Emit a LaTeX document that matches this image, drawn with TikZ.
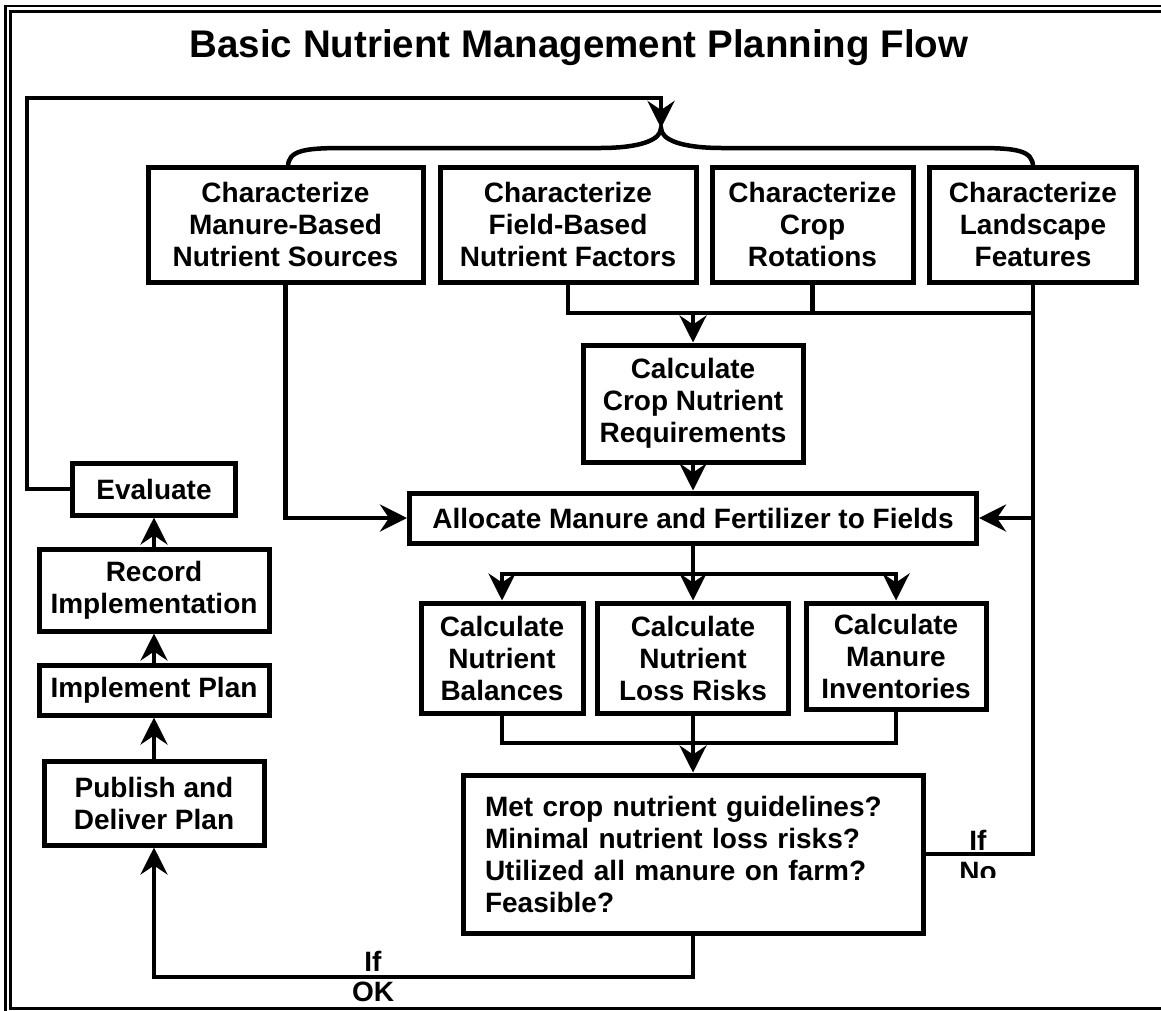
\documentclass[tikz,border=0pt]{standalone}
\usepackage{fontspec}
\setmainfont{Liberation Sans}
\usetikzlibrary{arrows.meta}
\tikzset{
  bx/.style={draw, line width=5pt, inner sep=0pt, align=center, fill=white,
    font=\fontsize{28}{32}\selectfont\bfseries},
  conn/.style={line width=4.5pt},
  arr/.style={conn, -{Stealth[length=27pt,width=27pt,inset=9pt]}},
  lbl/.style={font=\fontsize{28}{32}\selectfont\bfseries, inner sep=0pt},
  frameline/.style={line width=2.6pt},
}
\begin{document}
\begin{tikzpicture}[x=1pt,y=-1pt]
\useasboundingbox (0,0) rectangle (1161,1010);
\clip (0,0) rectangle (1161,1010);
% frame
\draw[frameline] (5.5,1020) -- (5.5,6) -- (1175,6);
\draw[frameline] (1175,11.3) -- (10.5,11.3) -- (10.5,1008.5) -- (1175,1008.5);
% title
\node[font=\fontsize{38.5}{44}\selectfont\bfseries, anchor=base, inner sep=0pt] (title) at (579,57) {Basic Nutrient Management Planning Flow};
% top boxes
\node[bx, minimum width=275pt, minimum height=115pt] (c1) at (285.5,224.5) {Characterize\\Manure-Based\\Nutrient Sources};
\node[bx, minimum width=256pt, minimum height=115pt] (c2) at (568,224.5) {Characterize\\Field-Based\\Nutrient Factors};
\node[bx, minimum width=201pt, minimum height=115pt] (c3) at (812.5,224.5) {Characterize\\Crop\\Rotations};
\node[bx, minimum width=207pt, minimum height=115pt] (c4) at (1033,224.5) {Characterize\\Landscape\\Features};
% middle
\node[bx, minimum width=220pt, minimum height=117pt] (crop) at (693,403.5) {Calculate\\Crop Nutrient\\Requirements};
\node[bx, minimum width=567pt, minimum height=50pt] (alloc) at (693,518) {Allocate Manure and Fertilizer to Fields};
\node[bx, minimum width=162pt, minimum height=110pt] (mA) at (502,658) {Calculate\\Nutrient\\Balances};
\node[bx, minimum width=191pt, minimum height=110pt] (mB) at (693,658) {Calculate\\Nutrient\\Loss Risks};
\node[bx, minimum width=180pt, minimum height=106pt] (mC) at (896,656) {Calculate\\Manure\\Inventories};
\node[bx, minimum width=460pt, minimum height=158pt, text width=416pt, align=left] (dec) at (693,854) {Met crop nutrient guidelines?\\Minimal nutrient loss risks?\\Utilized all manure on farm?\\Feasible?};
% left column
\node[bx, minimum width=163pt, minimum height=52pt] (eval) at (154,489) {Evaluate};
\node[bx, minimum width=230pt, minimum height=82pt] (rec) at (154,590) {Record\\Implementation};
\node[bx, minimum width=230pt, minimum height=50pt] (impl) at (154,690) {Implement Plan};
\node[bx, minimum width=220pt, minimum height=84pt] (pub) at (154,803) {Publish and\\Deliver Plan};
% coordinates
\coordinate (fbT) at (27,98);
\coordinate (bt) at (661,128);
\coordinate (j1) at (1033,313);
\coordinate (br) at (693,574);
\coordinate (col) at (693,743);
\coordinate (okc) at (693,977);
% feedback loop and brace
\draw[arr] (eval.west) -| (fbT) -| (bt);
\draw[conn] (288,167) .. controls (288,150) and (305,148) .. (345,148) -- (600,148)
  .. controls (640,148) and (661,140) .. (bt)
  .. controls (661,140) and (682,148) .. (722,148) -- (976,148)
  .. controls (1016,148) and (1033,150) .. (1033,167);
% connectors
\draw[arr] (c1.south) |- (alloc.west);
\draw[conn] (c2.south) |- (j1);
\draw[conn] (c3.south) -- (c3.south |- j1);
\draw[arr] (crop.north |- j1) -- (crop.north);
\draw[arr] (crop.south) -- (alloc.north);
\draw[conn] (c4.south) -- (c4.south |- dec.east) -- (dec.east);
\draw[arr] (c4.south |- alloc.east) -- (alloc.east);
\draw[arr] (alloc.south) -- (mB.north);
\draw[arr] (br) -| (mA.north);
\draw[arr] (br) -| (mC.north);
\draw[conn] (mA.south) |- (col);
\draw[conn] (mC.south) |- (col);
\draw[arr] (mB.south) -- (dec.north);
\draw[arr] (dec.south) -- (okc) -| (pub.south);
\draw[arr] (pub.north) -- (impl.south);
\draw[arr] (impl.north) -- (rec.south);
\draw[arr] (rec.north) -- (eval.south);
% labels
\node[lbl, anchor=base] (okIf) at (373,971) {If};
\node[lbl, anchor=base] (okOK) at (373,1001) {OK};
\begin{scope}
\clip (940,815) rectangle (1020,877);
\node[lbl, anchor=base] (noIf) at (978,850) {If};
\node[lbl, anchor=base] (noNo) at (978,881) {No};
\end{scope}
\end{tikzpicture}
\end{document}
